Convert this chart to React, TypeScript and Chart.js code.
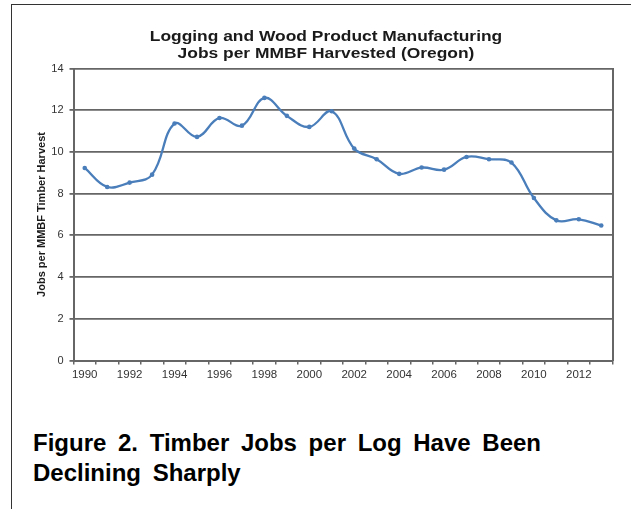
import React, { useEffect, useRef } from 'react';
import { Chart, registerables } from 'chart.js';

Chart.register(...registerables);

const years = [
  '1990', '1991', '1992', '1993', '1994', '1995', '1996', '1997', '1998', '1999', '2000', '2001',
  '2002', '2003', '2004', '2005', '2006', '2007', '2008', '2009', '2010', '2011', '2012', '2013',
];
const jobsPerMMBF = [
  9.23, 8.32, 8.53, 8.91, 11.36, 10.72, 11.63, 11.26, 12.59, 11.73, 11.2, 11.95,
  10.16, 9.65, 8.95, 9.25, 9.15, 9.76, 9.65, 9.49, 7.79, 6.72, 6.77, 6.47,
];
const titleLines = ['Logging and Wood Product Manufacturing', 'Jobs per MMBF Harvested (Oregon)'];
const yAxisTitle = 'Jobs per MMBF Timber Harvest';
const captionLines = ['Figure 2. Timber Jobs per Log Have Been', 'Declining Sharply'];
const yMin = 0;
const yMax = 14;
const yStep = 2;

const FONT = "'Liberation Sans', Arial, Helvetica, sans-serif";
const GRID = '#666666';
const LINE = '#4a7ebb';

export default function App() {
  const canvasRef = useRef<HTMLCanvasElement | null>(null);

  useEffect(() => {
    const canvas = canvasRef.current;
    if (!canvas) return;
    const chart = new Chart(canvas, {
      type: 'line',
      data: {
        labels: years,
        datasets: [
          {
            data: jobsPerMMBF,
            borderColor: LINE,
            backgroundColor: LINE,
            borderWidth: 2.3,
            pointRadius: 2.3,
            pointBorderWidth: 0,
            pointBackgroundColor: LINE,
            tension: 0.4,
            fill: false,
          },
        ],
      },
      options: {
        responsive: false,
        animation: false,
        events: [],
        layout: { padding: { left: 39.5, right: 18.5, top: 68.5, bottom: 29.5 } },
        plugins: {
          legend: { display: false },
          tooltip: { enabled: false },
          title: { display: false },
        },
        scales: {
          x: {
            type: 'category',
            offset: true,
            afterFit: (s: any) => { s.height = 30; },
            grid: {
              offset: true,
              drawOnChartArea: false,
              drawTicks: true,
              tickLength: 4,
              color: GRID,
              lineWidth: 1.5,
            },
            border: { display: true, color: GRID, width: 2 },
            ticks: {
              autoSkip: false,
              maxRotation: 0,
              minRotation: 0,
              padding: 3,
              color: '#333',
              font: { family: FONT, size: 11.5 },
              callback: (_v: any, i: number) => (i % 2 === 0 ? years[i] : ''),
            },
          },
          y: {
            min: yMin,
            max: yMax,
            afterFit: (s: any) => { s.width = 34; },
            grid: {
              color: GRID,
              lineWidth: 1.8,
              tickLength: 4,
            },
            border: { display: true, color: GRID, width: 2 },
            ticks: {
              stepSize: yStep,
              padding: 6,
              color: '#333',
              font: { family: FONT, size: 11 },
            },
            title: {
              display: true,
              text: yAxisTitle,
              color: '#1a1a1a',
              font: { family: FONT, size: 11, weight: 'bold' },
              padding: { top: -4, bottom: 0 },
            },
          },
          yRight: {
            type: 'linear',
            position: 'right',
            display: true,
            afterFit: (s: any) => { s.width = 0; },
            grid: { drawOnChartArea: false, drawTicks: false },
            border: { display: true, color: GRID, width: 2 },
            ticks: { display: false },
          },
        },
      },
    });
    return () => chart.destroy();
  }, []);

  return (
    <div style={{ position: 'fixed', left: 0, top: 0, width: 631, height: 509, background: '#fff', overflow: 'hidden' }}>
      <div
        style={{
          position: 'absolute',
          left: 11,
          top: 4,
          width: 640,
          height: 520,
          borderTop: '1.5px solid #333',
          borderLeft: '1.5px solid #333',
        }}
      />
      <canvas ref={canvasRef} width={631} height={420} style={{ position: 'absolute', left: 0, top: 0, width: 631, height: 420 }} />
      <div
        style={{
          position: 'absolute',
          left: 0,
          top: 28,
          width: 652,
          textAlign: 'center',
          fontFamily: FONT,
          fontWeight: 'bold',
          fontSize: 14.5,
          lineHeight: '17px',
          color: '#1a1a1a',
          transform: 'scaleX(1.2)',
          transformOrigin: '326px 0',
          whiteSpace: 'nowrap',
        }}
      >
        {titleLines.map((l) => (
          <div key={l}>{l}</div>
        ))}
      </div>
      <div
        style={{
          position: 'absolute',
          left: 33,
          top: 428,
          fontFamily: FONT,
          fontWeight: 'bold',
          fontSize: 24,
          wordSpacing: 5,
          lineHeight: '30px',
          color: '#000',
          whiteSpace: 'nowrap',
        }}
      >
        {captionLines.map((l) => (
          <div key={l}>{l}</div>
        ))}
      </div>
    </div>
  );
}
